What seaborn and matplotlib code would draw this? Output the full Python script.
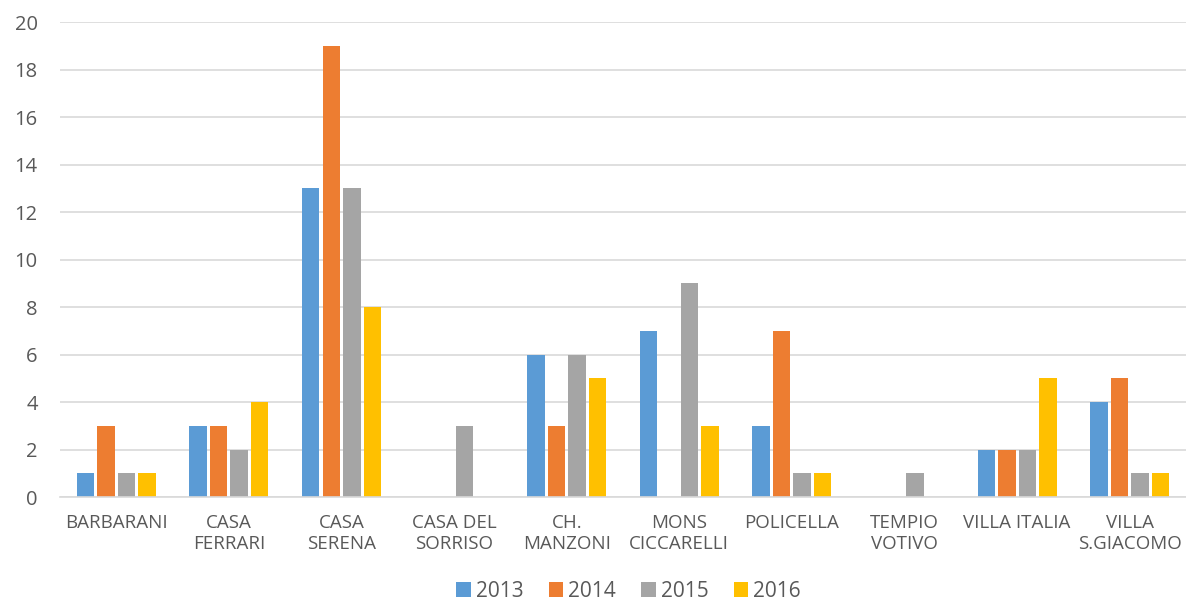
import pandas as pd
import matplotlib.pyplot as plt
import seaborn as sns

# data
categories = ["BARBARANI", "CASA\nFERRARI", "CASA\nSERENA", "CASA DEL\nSORRISO", "CH.\nMANZONI",
              "MONS\nCICCARELLI", "POLICELLA", "TEMPIO\nVOTIVO", "VILLA ITALIA", "VILLA\nS.GIACOMO"]
years = ["2013", "2014", "2015", "2016"]
v2013 = [1, 3, 13, 0, 6, 7, 3, 0, 2, 4]
v2014 = [3, 3, 19, 0, 3, 0, 7, 0, 2, 5]
v2015 = [1, 2, 13, 3, 6, 9, 1, 1, 2, 1]
v2016 = [1, 4, 8, 0, 5, 3, 1, 0, 5, 1]
colors = ["#5B9BD5", "#ED7D31", "#A5A5A5", "#FFC000"]

rows = []
for yr, vals in zip(years, [v2013, v2014, v2015, v2016]):
    for cat, v in zip(categories, vals):
        rows.append({"Struttura": cat, "Anno": yr, "Valore": v})
df = pd.DataFrame(rows)

sns.set_theme(style="white")
plt.rcParams['font.family'] = ['Open Sans', 'DejaVu Sans']

fig = plt.figure(figsize=(11.86, 6.13), dpi=100)
ax = fig.add_axes([0.0506, 0.189, 0.9494, 0.775])

sns.barplot(data=df, x="Struttura", y="Valore", hue="Anno", order=categories,
            hue_order=years, palette=dict(zip(years, colors)), width=0.73, gap=0.15,
            saturation=1, linewidth=0, ax=ax, legend=True)

ax.set_ylim(0, 20)
ax.set_xlim(-0.5, len(categories) - 0.5)
ax.set_yticks(range(0, 21, 2))
ax.yaxis.grid(True, color="#d9d9d9", linewidth=1.2)
ax.set_axisbelow(True)
for s in ["top", "right", "left"]:
    ax.spines[s].set_visible(False)
ax.spines["bottom"].set_color("#d9d9d9")
ax.spines["bottom"].set_linewidth(1.2)
ax.tick_params(axis="both", length=0, colors="#595959")
ax.tick_params(axis="y", labelsize=14.5, pad=16)
ax.tick_params(axis="x", labelsize=13.5, pad=12)
ax.set_xlabel("")
ax.set_ylabel("")

ax.legend_.remove()
handles, labels = ax.get_legend_handles_labels()
fig.legend(handles, labels, loc="lower center", bbox_to_anchor=(0.53, -0.012), ncol=4,
           frameon=False, fontsize=15, handlelength=0.7, handleheight=0.7,
           handletextpad=0.25, columnspacing=1.2, labelcolor="#595959")

fig.savefig("out.png", dpi=100)
